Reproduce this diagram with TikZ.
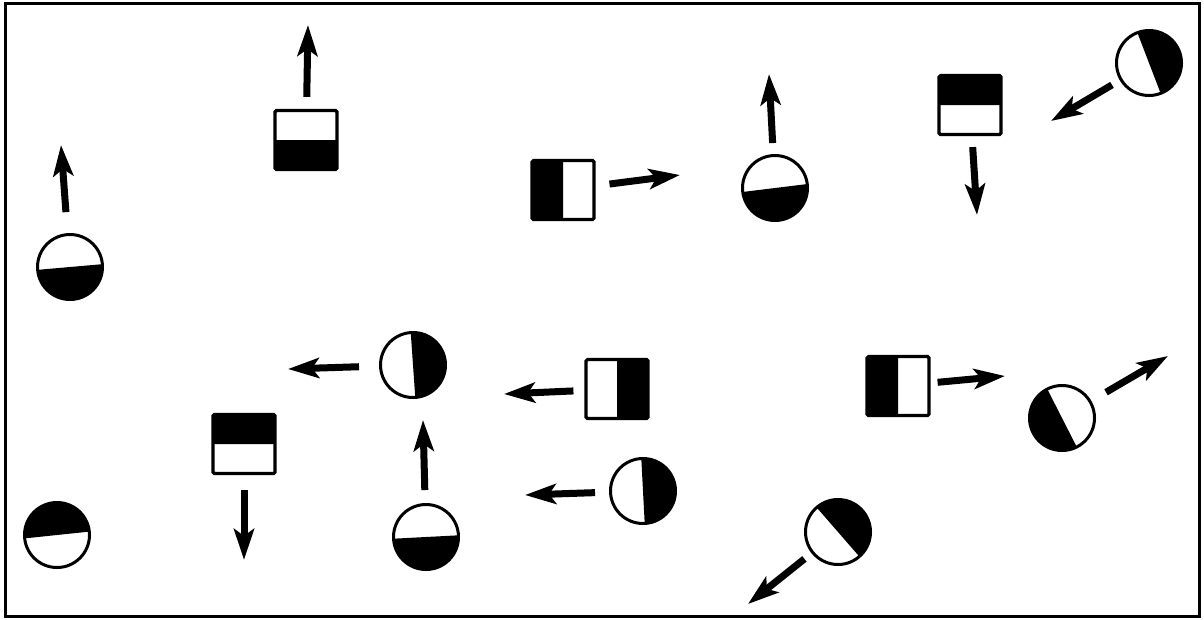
\documentclass[tikz,border=0pt]{standalone}
\usetikzlibrary{arrows.meta,positioning}

\tikzset{
  halfc/.style={circle, draw, line width=3pt, minimum size=65pt, inner sep=0pt,
    path picture={\fill (path picture bounding box.center) ++(#1-90:45pt)
      -- ++(#1:45pt) -- ++(#1+90:90pt) -- ++(#1+180:45pt) -- cycle;}},
  halfs/.style={rectangle, draw, line width=3.2pt, rounded corners=1.5pt,
    minimum width=62pt, minimum height=59pt, inner sep=0pt,
    path picture={\fill (path picture bounding box.center) ++(#1-90:50pt)
      -- ++(#1:50pt) -- ++(#1+90:100pt) -- ++(#1+180:50pt) -- cycle;}},
  mv/.style={line width=7pt, -{Stealth[length=31pt, width=20pt, inset=7pt]}}
}

\begin{document}
\begin{tikzpicture}[x=1pt, y=-1pt]
  \useasboundingbox (0,0) rectangle (1204,619);
  \draw[line width=3pt] (5,3) rectangle (1199,616);

  % magnets
  \node[halfc=-85] (c1) at (70,267) {};
  \node[halfs=-90] (s1) at (306,140) {};
  \node[halfs=180] (s2) at (563,190) {};
  \node[halfc=-83] (c2) at (775,188) {};
  \node[halfs=90]  (s3) at (970,105) {};
  \node[halfc=21]  (c3) at (1149,63) {};
  \node[halfc=4]   (c4) at (413,365) {};
  \node[halfs=0]   (s4) at (617,389) {};
  \node[halfs=90]  (s5) at (244,444) {};
  \node[halfc=96]  (c5) at (57,535) {};
  \node[halfc=-87] (c6) at (426,537) {};
  \node[halfc=3]   (c7) at (643,491) {};
  \node[halfc=41]  (c8) at (838,532) {};
  \node[halfs=180] (s6) at (898,386) {};
  \node[halfc=-153] (c9) at (1062,418) {};

  % arrow tips
  \coordinate (c1t) at (61,145);
  \coordinate (s1t) at (308,25);
  \coordinate (s2t) at (680,175);
  \coordinate (c2t) at (769,74);
  \coordinate (s3t) at (977,215);
  \coordinate (c3t) at (1051,121);
  \coordinate (c4t) at (288,369);
  \coordinate (s4t) at (504,394);
  \coordinate (s5t) at (244,560);
  \coordinate (c6t) at (423,420);
  \coordinate (c7t) at (525,495);
  \coordinate (c8t) at (748,604);
  \coordinate (s6t) at (1005,376);
  \coordinate (c9t) at (1168,356);

  \draw[mv, shorten <=21pt] (c1) -- (c1t);
  \draw[mv, shorten <=12pt] (s1) -- (s1t);
  \draw[mv, shorten <=14pt] (s2) -- (s2t);
  \draw[mv, shorten <=11pt] (c2) -- (c2t);
  \draw[mv, shorten <=11pt] (s3) -- (s3t);
  \draw[mv, shorten <=9pt]  (c3) -- (c3t);
  \draw[mv, shorten <=20pt] (c4) -- (c4t);
  \draw[mv, shorten <=11pt] (s4) -- (s4t);
  \draw[mv, shorten <=15pt] (s5) -- (s5t);
  \draw[mv, shorten <=13pt] (c6) -- (c6t);
  \draw[mv, shorten <=14pt] (c7) -- (c7t);
  \draw[mv, shorten <=9pt]  (c8) -- (c8t);
  \draw[mv, shorten <=7pt]  (s6) -- (s6t);
  \draw[mv, shorten <=17pt] (c9) -- (c9t);
\end{tikzpicture}
\end{document}
